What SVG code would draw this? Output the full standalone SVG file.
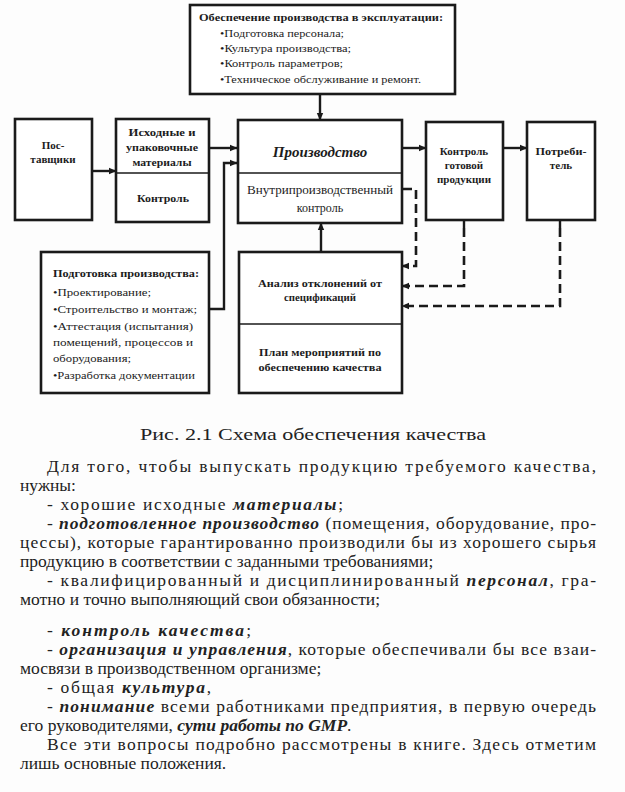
<svg xmlns="http://www.w3.org/2000/svg" width="625" height="792" viewBox="0 0 625 792">
<style>
.box{fill:#fff;stroke:#1a1a1a;stroke-width:2.6}
.div{stroke:#1a1a1a;stroke-width:1.6;fill:none}
.ln{stroke:#1a1a1a;stroke-width:2.4;fill:none}
.dash{stroke:#1a1a1a;stroke-width:2.6;fill:none;stroke-dasharray:9 5}
.t{font-family:"Liberation Serif","Times New Roman",serif;fill:#1c1c1c}
.b{font-weight:bold}
.s{font-size:11px}
.m{font-size:11px}
.c{text-anchor:middle}
.body{font-family:"Liberation Serif","Times New Roman",serif;font-size:17.5px;fill:#222}
.bi{font-weight:bold;font-style:italic}
</style>
<defs>
<marker id="ah" markerWidth="8" markerHeight="8" refX="7" refY="4" orient="auto" markerUnits="userSpaceOnUse">
<path d="M0,0.8 L7.5,4 L0,7.2 z" fill="#1a1a1a"/>
</marker>
</defs>
<rect width="625" height="792" fill="#fdfdfd"/>

<g id="connectors">
<line class="ln" x1="320" y1="95" x2="320" y2="120" marker-end="url(#ah)"/>
<line class="ln" x1="92" y1="171" x2="116" y2="171" marker-end="url(#ah)"/>
<line class="ln" x1="209" y1="148" x2="237" y2="148" marker-end="url(#ah)"/>
<polyline class="ln" points="209,309 224,309 224,163 237,163" marker-end="url(#ah)"/>
<line class="ln" x1="402" y1="148" x2="426" y2="148" marker-end="url(#ah)"/>
<line class="ln" x1="503" y1="148" x2="527" y2="148" marker-end="url(#ah)"/>
<line class="ln" x1="321" y1="252" x2="321" y2="223" marker-end="url(#ah)"/>
<line class="ln" x1="464" y1="220" x2="464" y2="228"/>
<line class="ln" x1="560" y1="220" x2="560" y2="228"/>
<polyline class="dash" points="403,189 416,189 416,266 402,266" marker-end="url(#ah)"/>
<polyline class="dash" points="464,228 464,286 402,286" marker-end="url(#ah)"/>
<polyline class="dash" points="560,228 560,306 402,306" marker-end="url(#ah)"/>
</g>

<g id="node-exploitation">
<rect class="box" x="190" y="5" width="265" height="89"/>
<text class="t b m" x="199" y="21" textLength="244" lengthAdjust="spacingAndGlyphs">Обеспечение производства в эксплуатации:</text>
<text class="t s" x="220" y="37" textLength="124" lengthAdjust="spacingAndGlyphs">•Подготовка персонала;</text>
<text class="t s" x="220" y="52" textLength="131" lengthAdjust="spacingAndGlyphs">•Культура производства;</text>
<text class="t s" x="220" y="67" textLength="123" lengthAdjust="spacingAndGlyphs">•Контроль параметров;</text>
<text class="t s" x="220" y="83" textLength="201" lengthAdjust="spacingAndGlyphs">•Техническое обслуживание и ремонт.</text>
</g>

<g id="node-suppliers">
<rect class="box" x="15" y="119" width="77" height="101"/>
<text class="t b m c" x="53" y="149">Пос-</text>
<text class="t b m c" x="53" y="163">тавщики</text>
</g>

<g id="node-materials">
<rect class="box" x="116" y="119" width="93" height="103"/>
<line class="div" x1="116" y1="173" x2="209" y2="173"/>
<text class="t b m c" x="162" y="136" textLength="67" lengthAdjust="spacingAndGlyphs">Исходные и</text>
<text class="t b m c" x="162" y="151" textLength="72" lengthAdjust="spacingAndGlyphs">упаковочные</text>
<text class="t b m c" x="162" y="166" textLength="59" lengthAdjust="spacingAndGlyphs">материалы</text>
<text class="t b m c" x="163" y="202" textLength="52" lengthAdjust="spacingAndGlyphs">Контроль</text>
</g>

<g id="node-production">
<rect class="box" x="238" y="120" width="164" height="103"/>
<line class="div" x1="238" y1="173" x2="402" y2="173"/>
<text class="t bi c" x="320" y="157" font-size="15">Производство</text>
<text class="t c" x="320" y="194" font-size="12" fill="#333" textLength="146" lengthAdjust="spacingAndGlyphs">Внутрипроизводственный</text>
<text class="t c" x="320" y="212" font-size="12" fill="#333">контроль</text>
</g>

<g id="node-final-control">
<rect class="box" x="426" y="122" width="77" height="98"/>
<text class="t b s c" x="464" y="155" font-size="10.5">Контроль</text>
<text class="t b s c" x="464" y="169" font-size="10.5">готовой</text>
<text class="t b s c" x="464" y="183" font-size="10.5">продукции</text>
</g>

<g id="node-consumer">
<rect class="box" x="527" y="122" width="68" height="98"/>
<text class="t b s c" x="561" y="155" textLength="51" lengthAdjust="spacingAndGlyphs">Потреби-</text>
<text class="t b s c" x="561" y="169">тель</text>
</g>

<g id="node-preparation">
<rect class="box" x="41" y="252" width="168" height="141"/>
<text class="t b m" x="53" y="277" textLength="146" lengthAdjust="spacingAndGlyphs">Подготовка производства:</text>
<text class="t s" x="53" y="296" textLength="98" lengthAdjust="spacingAndGlyphs">•Проектирование;</text>
<text class="t s" x="53" y="313" textLength="144" lengthAdjust="spacingAndGlyphs">•Строительство и монтаж;</text>
<text class="t s" x="53" y="330" textLength="140" lengthAdjust="spacingAndGlyphs">•Аттестация (испытания)</text>
<text class="t s" x="53" y="346" textLength="140" lengthAdjust="spacingAndGlyphs">помещений, процессов и</text>
<text class="t s" x="53" y="362" textLength="78" lengthAdjust="spacingAndGlyphs">оборудования;</text>
<text class="t s" x="53" y="379" textLength="142" lengthAdjust="spacingAndGlyphs">•Разработка документации</text>
</g>

<g id="node-analysis">
<rect class="box" x="239" y="252" width="163" height="141"/>
<line class="div" x1="239" y1="324" x2="402" y2="324"/>
<text class="t b m c" x="320" y="287" textLength="124" lengthAdjust="spacingAndGlyphs">Анализ отклонений от</text>
<text class="t b m c" x="320" y="301" textLength="72" lengthAdjust="spacingAndGlyphs">спецификаций</text>
<text class="t b m c" x="320" y="356" textLength="122" lengthAdjust="spacingAndGlyphs">План мероприятий по</text>
<text class="t b m c" x="320" y="371" textLength="123" lengthAdjust="spacingAndGlyphs">обеспечению качества</text>
</g>

<text class="body" x="140" y="440" font-size="18.5" textLength="346" lengthAdjust="spacingAndGlyphs">Рис. 2.1 Схема обеспечения качества</text>

<g id="body-text">
<text class="body" x="47" y="472" textLength="549" lengthAdjust="spacing">Для того, чтобы выпускать продукцию требуемого качества,</text>
<text class="body" x="20" y="491">нужны:</text>
<text class="body" x="47" y="510" textLength="296" lengthAdjust="spacing">- хорошие исходные <tspan class="bi">материалы</tspan>;</text>
<text class="body" x="47" y="529" textLength="549" lengthAdjust="spacing">- <tspan class="bi">подготовленное производство</tspan> (помещения, оборудование, про-</text>
<text class="body" x="20" y="548" textLength="576" lengthAdjust="spacing">цессы), которые гарантированно производили бы из хорошего сырья</text>
<text class="body" x="20" y="567">продукцию в соответствии с заданными требованиями;</text>
<text class="body" x="47" y="586" textLength="549" lengthAdjust="spacing">- квалифицированный и дисциплинированный <tspan class="bi">персонал</tspan>, гра-</text>
<text class="body" x="20" y="605">мотно и точно выполняющий свои обязанности;</text>
<text class="body" x="47" y="636" textLength="204" lengthAdjust="spacing">- <tspan class="bi">контроль качества</tspan>;</text>
<text class="body" x="47" y="655" textLength="549" lengthAdjust="spacing">- <tspan class="bi">организация и управления</tspan>, которые обеспечивали бы все взаи-</text>
<text class="body" x="20" y="674">мосвязи в производственном организме;</text>
<text class="body" x="47" y="693" textLength="164" lengthAdjust="spacing">- общая <tspan class="bi">культура</tspan>,</text>
<text class="body" x="47" y="712" textLength="549" lengthAdjust="spacing">- <tspan class="bi">понимание</tspan> всеми работниками предприятия, в первую очередь</text>
<text class="body" x="20" y="731">его руководителями, <tspan class="bi">сути работы по GMP</tspan>.</text>
<text class="body" x="47" y="750" textLength="549" lengthAdjust="spacing">Все эти вопросы подробно рассмотрены в книге. Здесь отметим</text>
<text class="body" x="20" y="769">лишь основные положения.</text>
</g>
</svg>
